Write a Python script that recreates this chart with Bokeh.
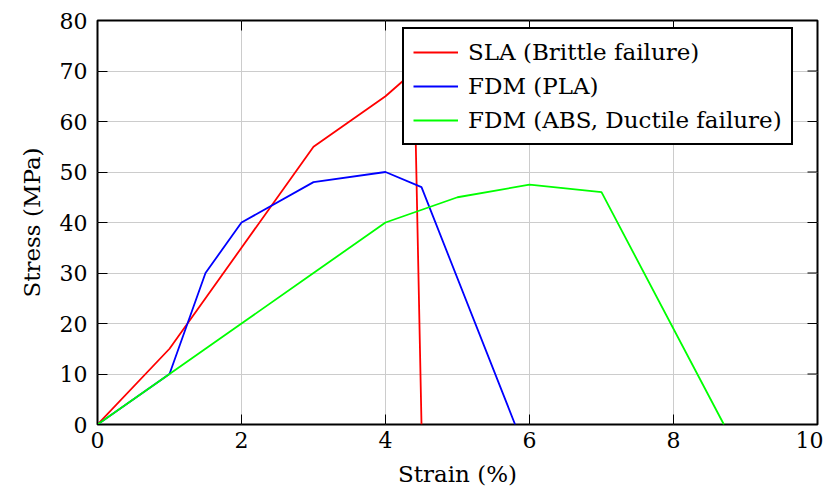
from bokeh.plotting import figure
from bokeh.models import Legend, LegendItem, FixedTicker, Range1d
from bokeh.embed import file_html
from bokeh.resources import INLINE

# Data
sla_strain = [0, 1, 2, 3, 4, 4.4, 4.5]
sla_stress = [0, 15, 35, 55, 65, 70, 0]
pla_strain = [0, 1, 1.5, 2, 3, 4, 4.5, 5.8]
pla_stress = [0, 10, 30, 40, 48, 50, 47, 0]
abs_strain = [0, 1, 2, 3, 4, 5, 6, 7, 8.7]
abs_stress = [0, 10, 20, 30, 40, 45, 47.5, 46, 0]
labels = ["SLA (Brittle failure)", "FDM (PLA)", "FDM (ABS, Ductile failure)"]
colors = ["#ff0000", "#0000ff", "#00ff00"]
x_ticks = [0, 2, 4, 6, 8, 10]
y_ticks = [0, 10, 20, 30, 40, 50, 60, 70, 80]
x_min, x_max = 0, 10
y_min, y_max = 0, 80

FONT = "DejaVu Serif"
TICK_FS = "22px"
LABEL_FS = "23px"

BL, BR, BT, BB = 97, 6, 20, 68
W, H = 823, 492
FRAME_W = W - BL - BR
FRAME_H = H - BT - BB
TICK_LEN = 10

p = figure(width=W, height=H, output_backend="svg", toolbar_location=None,
           x_range=Range1d(x_min, x_max), y_range=Range1d(y_min, y_max),
           min_border_left=BL, min_border_right=BR, min_border_top=BT, min_border_bottom=BB)

p.outline_line_color = "black"
p.outline_line_width = 2
p.outline_line_alpha = 1

for ax, ticks in ((p.xaxis[0], x_ticks), (p.yaxis[0], y_ticks)):
    ax.ticker = FixedTicker(ticks=ticks)
    ax.axis_line_color = None
    ax.major_tick_in = TICK_LEN
    ax.major_tick_out = 0
    ax.major_tick_line_color = "black"
    ax.major_tick_line_width = 1
    ax.minor_tick_line_color = None
    ax.major_label_text_font = FONT
    ax.major_label_text_font_size = TICK_FS
    ax.major_label_text_color = "black"
    ax.axis_label_text_font = FONT
    ax.axis_label_text_font_size = LABEL_FS
    ax.axis_label_text_font_style = "normal"
    ax.axis_label_text_color = "black"

p.xaxis[0].axis_label = "Strain (%)"
p.yaxis[0].axis_label = "Stress (MPa)"
p.xaxis[0].major_label_standoff = 7
p.yaxis[0].major_label_standoff = 10
p.xaxis[0].axis_label_standoff = 10
p.yaxis[0].axis_label_standoff = 12

p.xgrid.ticker = FixedTicker(ticks=x_ticks)
p.ygrid.ticker = FixedTicker(ticks=y_ticks)
p.grid.grid_line_color = "#cccccc"
p.grid.grid_line_width = 1

# mirrored inward ticks on the right and top edges
dx = (x_max - x_min) * TICK_LEN / FRAME_W
dy = (y_max - y_min) * TICK_LEN / FRAME_H
p.segment(x0=[x_max] * len(y_ticks), y0=y_ticks, x1=[x_max - dx] * len(y_ticks), y1=y_ticks,
          line_color="black", line_width=1)
p.segment(x0=x_ticks, y0=[y_max] * len(x_ticks), x1=x_ticks, y1=[y_max - dy] * len(x_ticks),
          line_color="black", line_width=1)

r1 = p.line(sla_strain, sla_stress, line_color=colors[0], line_width=1.8)
r2 = p.line(pla_strain, pla_stress, line_color=colors[1], line_width=1.8)
r3 = p.line(abs_strain, abs_stress, line_color=colors[2], line_width=1.8)

legend = Legend(items=[LegendItem(label=labels[0], renderers=[r1]),
                       LegendItem(label=labels[1], renderers=[r2]),
                       LegendItem(label=labels[2], renderers=[r3])],
                location=(305, 279))
legend.label_text_font = FONT
legend.label_text_font_size = LABEL_FS
legend.label_text_color = "black"
legend.glyph_width = 45
legend.glyph_height = 28
legend.label_height = 28
legend.spacing = 6
legend.padding = 9
legend.margin = 0
legend.label_standoff = 10
legend.border_line_color = "black"
legend.border_line_width = 2
legend.border_line_alpha = 1
legend.background_fill_color = "white"
legend.background_fill_alpha = 1
p.add_layout(legend, "center")

open("out.html", "w").write(file_html(p, INLINE))
